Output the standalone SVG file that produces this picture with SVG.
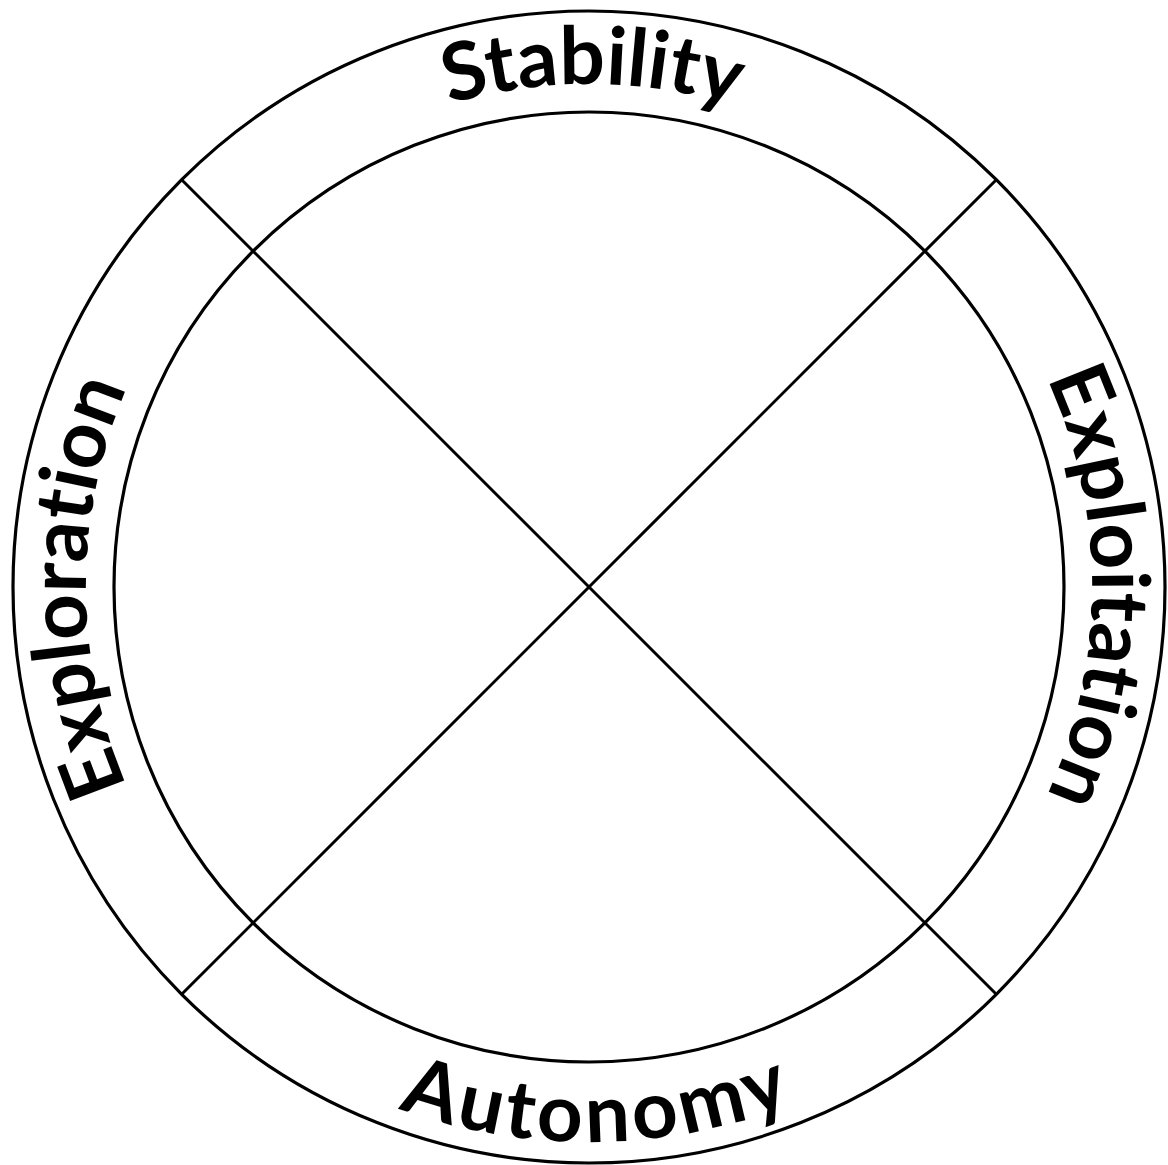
<svg xmlns="http://www.w3.org/2000/svg" width="1168" height="1165" viewBox="0 0 1168 1165">
<style>
.ring{fill:none;stroke:#000;stroke-width:3.2}
.div{stroke:#000;stroke-width:3}
.lbl{font-family:Lato,"Open Sans","Liberation Sans",sans-serif;font-weight:700;font-size:80px;fill:#000;font-variant-ligatures:none;font-feature-settings:"liga" 0,"dlig" 0}
</style>
<defs>
<path id="pStab" d="M 265.7 201.7 A 503 503 0 0 1 912.3 201.7"/>
<path id="pExpt" d="M 944.7 231.3 A 503 503 0 0 1 944.7 942.7"/>
<path id="pExpr" d="M 233.3 942.7 A 503 503 0 0 1 233.3 231.3"/>
<path id="pAuto" d="M 196.6 979.4 A 555 555 0 0 0 981.4 979.4"/>
</defs>
<rect width="1168" height="1165" fill="#fff"/>
<g id="rings">
<circle class="ring" cx="589" cy="587" r="576"/>
<circle class="ring" cx="589" cy="587" r="475"/>
</g>
<g id="connectors">
<line class="div" x1="181.7" y1="179.7" x2="996.3" y2="994.3"/>
<line class="div" x1="996.3" y1="179.7" x2="181.7" y2="994.3"/>
</g>
<g id="stability"><text class="lbl" text-anchor="middle"><textPath href="#pStab" startOffset="50.5%">Stability</textPath></text></g>
<g id="exploitation"><text class="lbl" text-anchor="middle"><textPath href="#pExpt" startOffset="50%">Exploitation</textPath></text></g>
<g id="exploration"><text class="lbl" text-anchor="middle"><textPath href="#pExpr" startOffset="50%">Exploration</textPath></text></g>
<g id="autonomy"><text class="lbl" text-anchor="middle" letter-spacing="4"><textPath href="#pAuto" startOffset="51%">Autonomy</textPath></text></g>
</svg>
